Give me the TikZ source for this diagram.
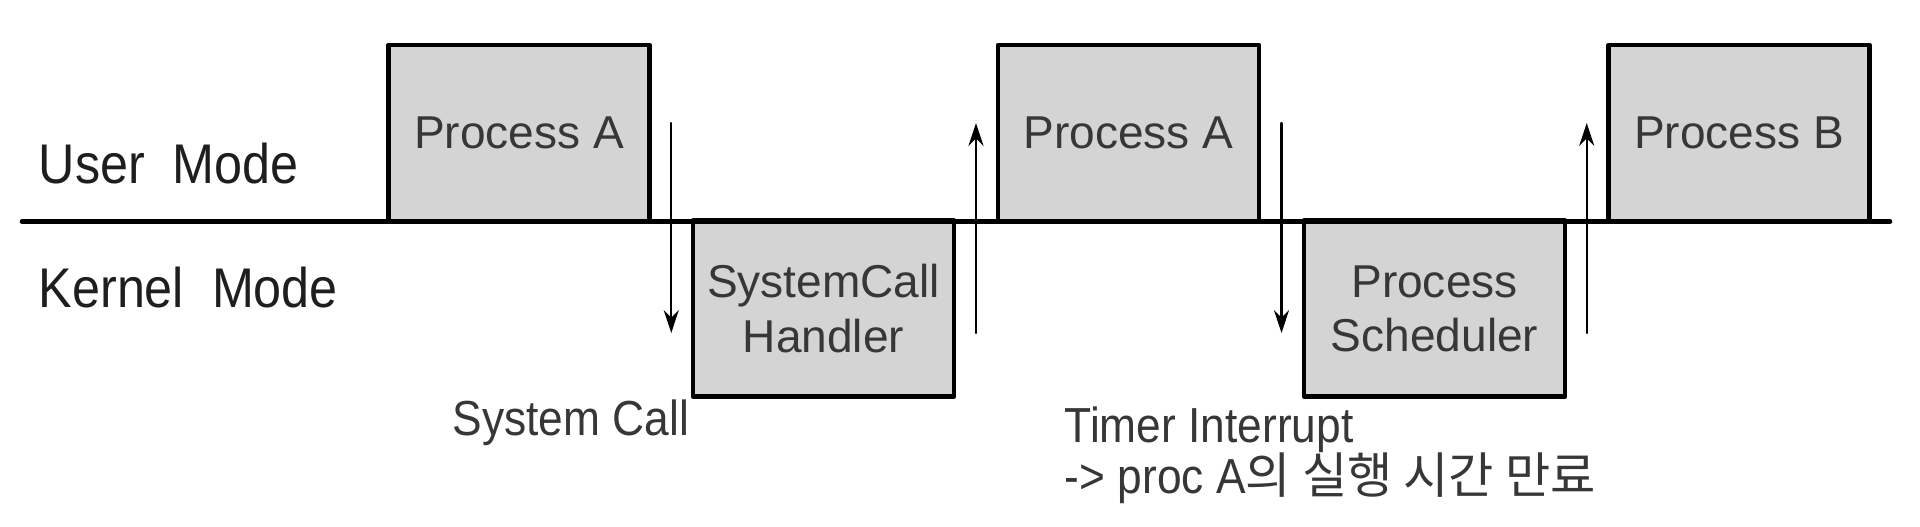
\documentclass[tikz,border=0pt]{standalone}
\usepackage{fontspec}
\setmainfont{Liberation Sans}
\newfontfamily\narrowfont[FakeStretch=0.9]{Liberation Sans}
\newfontfamily\krfont{Noto Sans CJK KR}
\usetikzlibrary{arrows.meta,calc}
\definecolor{boxgray}{RGB}{212,212,212}
\definecolor{labelgray}{RGB}{55,55,55}
\definecolor{modeink}{RGB}{30,30,30}

\begin{document}
\begin{tikzpicture}[line cap=round,line join=round,>={Stealth[length=6.5pt,width=4.3pt]},x=0.01cm,y=-0.01cm,
  procbox/.style={draw,line width=1.3pt,fill=boxgray,minimum width=2.61cm,minimum height=1.76cm,
    inner sep=0pt,align=center,text=labelgray,font=\fontsize{13.1pt}{15.4pt}\selectfont},
  modetext/.style={anchor=base west,inner sep=0pt,text=modeink,font=\narrowfont\fontsize{15.9pt}{18pt}\selectfont},
  eventtext/.style={anchor=base west,inner sep=0pt,text=labelgray,font=\narrowfont\fontsize{14pt}{16pt}\selectfont},
  switch/.style={->,line width=0.6pt}]
\useasboundingbox (0,0) rectangle (1920,526);
% modes
\node[modetext] (user) at (38,183) {User\ \ Mode};
\node[modetext] (kernel) at (38,307) {Kernel\ \ Mode};
% running parts
\node[procbox] (pa1) at (519,133) {Process A};
\node[procbox] (sch) at (823.5,308.5) {SystemCall\\Handler};
\node[procbox] (pa2) at (1128.5,133) {Process A};
\node[procbox] (ps) at (1434.5,308.5) {Process\\Scheduler};
\node[procbox] (pb) at (1739,133) {Process B};
\draw [line width=1.3pt] (22,221.5)-- (1890,221.5);
% mode switches
\coordinate (hi) at (0,123);
\coordinate (lo) at (0,333);
\coordinate (s1) at ($(pa1.east)!.5!(sch.west)$);
\coordinate (s2) at ($(sch.east)!.5!(pa2.west)$);
\coordinate (s3) at ($(pa2.east)!.5!(ps.west)$);
\coordinate (s4) at ($(ps.east)!.5!(pb.west)$);
\draw [switch] (s1 |- hi)-- (s1 |- lo);
\draw [switch] (s2 |- lo)-- (s2 |- hi);
\draw [switch] (s3 |- hi)-- (s3 |- lo);
\draw [switch] (s4 |- lo)-- (s4 |- hi);
% events
\node[eventtext] (syscall) at (452,435) {System Call};
\node[eventtext] (timer) at (1064,442) {Timer Interrupt};
\node[eventtext] (expire) at (1064,493) {-> proc A{\krfont 의 실행 시간 만료}};
\end{tikzpicture}
\end{document}
